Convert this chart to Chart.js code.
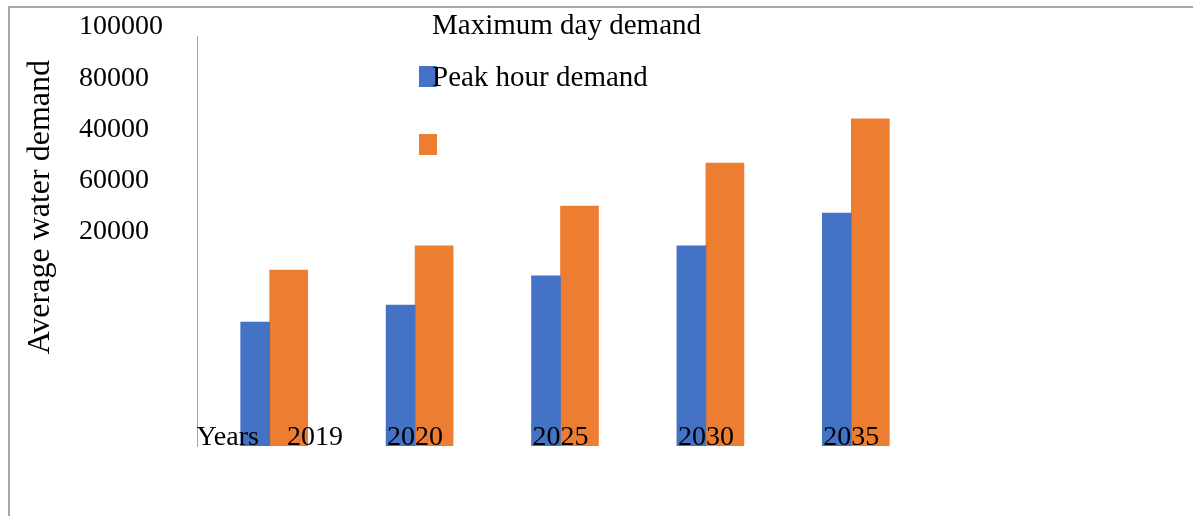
<!DOCTYPE html>
<html>
<head>
<meta charset="utf-8">
<script src="https://cdn.jsdelivr.net/npm/chart.js@4/dist/chart.umd.min.js"></script>
<style>
  html, body { margin: 0; padding: 0; background: #fff; }
  #wrap { position: relative; width: 1193px; height: 516px; }
  #frame { position: absolute; left: 8px; top: 6px; right: 0; bottom: 0;
           border-left: 2px solid #a6a6a6; border-top: 2px solid #a6a6a6; }
  canvas { position: absolute; left: 0; top: 0; }
</style>
</head>
<body>
<div id="wrap">
  <div id="frame"></div>
  <canvas id="chart" width="1193" height="516"></canvas>
</div>
<script>
// years on the x axis
var years = ["2019", "2020", "2025", "2030", "2035"];
// series
var maxDayDemand = [30200, 34400, 41500, 48800, 56800];
var peakHourDemand = [42900, 48800, 58500, 69000, 79800];
// tick labels as printed on the left (out of order in the original)
var yTickLabels = ["100000", "80000", "40000", "60000", "20000", "", "", "", ""];
var xTitle = "Years";
var yTitle = "Average water demand";

var serif = "'Liberation Serif', 'Times New Roman', serif";

// legend is drawn by hand: the original has its text and boxes shifted
var looseLegend = {
  id: "looseLegend",
  afterDraw: function (chart) {
    var ctx = chart.ctx;
    var ds = chart.data.datasets;
    ctx.save();
    ctx.fillStyle = ds[0].backgroundColor;
    ctx.fillRect(419, 66, 18, 21);
    ctx.fillStyle = ds[1].backgroundColor;
    ctx.fillRect(419, 134, 18, 21);
    ctx.fillStyle = "#000";
    ctx.font = "29px " + serif;
    ctx.textBaseline = "alphabetic";
    ctx.fillText(ds[0].label, 432, 34);
    ctx.fillText(ds[1].label, 432, 86);
    ctx.restore();
  }
};

new Chart(document.getElementById("chart"), {
  type: "bar",
  data: {
    labels: years,
    datasets: [
      { label: "Maximum day demand", data: maxDayDemand, backgroundColor: "#4472C4", barThickness: 29 },
      { label: "Peak hour demand", data: peakHourDemand, backgroundColor: "#ED7D31", barThickness: 38 }
    ]
  },
  options: {
    responsive: false,
    animation: false,
    layout: { padding: { left: 18, top: 36, right: 269, bottom: 70 } },
    plugins: { legend: { display: false }, tooltip: { enabled: false } },
    scales: {
      x: {
        grid: { display: false, drawTicks: false },
        border: { display: false },
        ticks: {
          z: 1,
          mirror: true, // labels sit on top of the bars' feet, unclipped
          color: "#000",
          font: { family: serif, size: 28 },
          padding: -8,
          autoSkip: false,
          maxRotation: 0,
          callback: function (v, i) {
            return i === 0 ? xTitle + "    " + years[i] : years[i];
          }
        },
        afterFit: function (scale) {
          scale.height = 0;
        }
      },
      y: {
        display: false,
        min: 0,
        max: 100000
      },
      y2: {
        type: "category",
        position: "left",
        labels: yTickLabels,
        weight: 1,
        grid: { display: false, drawTicks: false },
        border: { display: true, color: "#a6a6a6", width: 1 },
        ticks: {
          color: "#000",
          font: { family: serif, size: 28 },
          crossAlign: "far",
          padding: 17,
          labelOffset: -9,
          autoSkip: false
        },
        afterFit: function (scale) {
          scale.paddingTop = 0;
          scale.paddingBottom = 0;
        }
      },
      y3: {
        type: "linear",
        position: "left",
        min: 0,
        max: 1,
        weight: 2,
        grid: { display: false, drawTicks: false },
        border: { display: false },
        ticks: { display: false },
        title: {
          display: true,
          text: yTitle + "   ",
          align: "end",
          color: "#000",
          font: { family: serif, size: 32 },
          padding: { top: 3, bottom: 19.6 }
        }
      }
    }
  },
  plugins: [looseLegend]
});
</script>
</body>
</html>
